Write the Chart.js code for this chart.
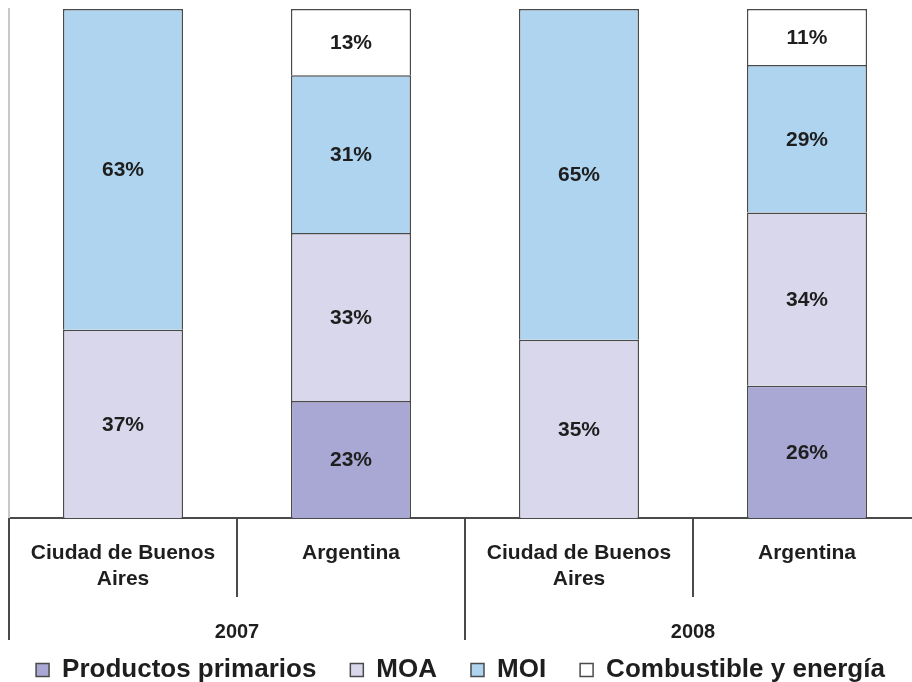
<!DOCTYPE html>
<html>
<head>
<meta charset="utf-8">
<script src="https://cdn.jsdelivr.net/npm/chart.js@4"></script>
<style>
  html, body { margin: 0; padding: 0; overflow: hidden; background: #fff; }
  #wrap { width: 921px; height: 682px; }
</style>
</head>
<body>
<div id="wrap"><canvas id="myStack"></canvas></div>
<script>
// ============================= DATA
let places = [['Ciudad de Buenos', 'Aires'], 'Argentina', ['Ciudad de Buenos', 'Aires'], 'Argentina'];
let years = ['2007', '2007', '2008', '2008'];

let primarios = [null, 23, null, 26];
let moa = [37, 33, 35, 34];
let moi = [63, 31, 65, 29];
let combustible = [null, 13, null, 11];

const FONT = '"Liberation Sans", Arial, sans-serif';
const LINE = '#4a4a4a';

// percent inside each piece
let pctLabels = {
    id: 'pctLabels',
    afterDatasetsDraw(chart) {
        let ctx = chart.ctx;
        ctx.save();
        ctx.font = 'bold 21px ' + FONT;
        ctx.fillStyle = '#1e1e1e';
        ctx.textAlign = 'center';
        ctx.textBaseline = 'middle';
        chart.data.datasets.forEach((ds, i) => {
            chart.getDatasetMeta(i).data.forEach((bar, j) => {
                let v = ds.data[j];
                if (!v) return;
                ctx.fillText(v + '%', bar.x, (bar.y + bar.base) / 2 + 1);
            });
        });
        ctx.restore();
    }
};

// year row + separators under the axis
let yearRow = {
    id: 'yearRow',
    afterDraw(chart) {
        let ctx = chart.ctx;
        let x = chart.scales.x;
        let step = x.width / years.length;
        let top = x.top;
        ctx.save();
        ctx.strokeStyle = LINE;
        ctx.lineWidth = 2;
        for (let i = 0; i < years.length; i++) {
            let left = x.getPixelForValue(i) - step / 2;
            let newGroup = i === 0 || years[i] !== years[i - 1];
            ctx.beginPath();
            ctx.moveTo(left, top);
            ctx.lineTo(left, newGroup ? top + 122 : top + 79);
            ctx.stroke();
        }
        ctx.font = 'bold 20px ' + FONT;
        ctx.fillStyle = '#1e1e1e';
        ctx.textAlign = 'center';
        ctx.textBaseline = 'middle';
        let done = {};
        years.forEach((y) => {
            if (done[y]) return;
            done[y] = true;
            let idx = years.map((v, k) => v === y ? k : -1).filter(k => k >= 0);
            let a = x.getPixelForValue(idx[0]);
            let b = x.getPixelForValue(idx[idx.length - 1]);
            ctx.fillText(y, (a + b) / 2, top + 114);
        });
        ctx.restore();
    }
};

// legend is a bit too tall with the wide padding, trim it
let legendTrim = {
    id: 'legendTrim',
    afterInit(chart) {
        let lg = chart.legend;
        if (!lg) return;
        let fit = lg.fit;
        lg.fit = function () {
            fit.call(this);
            this.height -= 11;
        };
    }
};

let ctx = document.querySelector('#myStack').getContext('2d');
let myStack = new Chart(ctx, {
    type: 'bar',
    data: {
        labels: places,
        datasets: [
            { label: 'Productos primarios', data: primarios, backgroundColor: '#a9a7d3' },
            { label: 'MOA', data: moa, backgroundColor: '#d9d7eb' },
            { label: 'MOI', data: moi, backgroundColor: '#aed4ef' },
            { label: 'Combustible y energía', data: combustible, backgroundColor: '#ffffff' }
        ].map(d => Object.assign(d, {
            borderColor: LINE,
            borderWidth: 1.5,
            categoryPercentage: 1,
            barPercentage: 0.527
        }))
    },
    options: {
        responsive: true,
        maintainAspectRatio: false,
        animation: false,
        layout: { padding: { top: 9, left: 0, right: 0, bottom: 0 } },
        scales: {
            x: {
                stacked: true,
                grid: { display: false },
                border: { display: true, color: LINE, width: 2 },
                ticks: {
                    color: '#1e1e1e',
                    padding: 15,
                    maxRotation: 0,
                    autoSkip: false,
                    font: { family: FONT, size: 21, weight: 'bold', lineHeight: 1.2 }
                },
                afterFit(scale) { scale.height = 105; }
            },
            y: {
                stacked: true,
                min: 0,
                max: 100,
                grid: { display: false },
                border: { display: true, color: '#c8c8c8', width: 2 },
                ticks: { display: false },
                afterFit(scale) { scale.width = 9; }
            }
        },
        plugins: {
            tooltip: { enabled: false },
            legend: {
                position: 'bottom',
                labels: {
                    color: '#1e1e1e',
                    boxWidth: 13,
                    boxHeight: 13,
                    padding: 34,
                    font: { family: FONT, size: 26, weight: 'bold', lineHeight: 1.0 }
                }
            }
        }
    },
    plugins: [pctLabels, yearRow, legendTrim]
});
</script>
</body>
</html>
